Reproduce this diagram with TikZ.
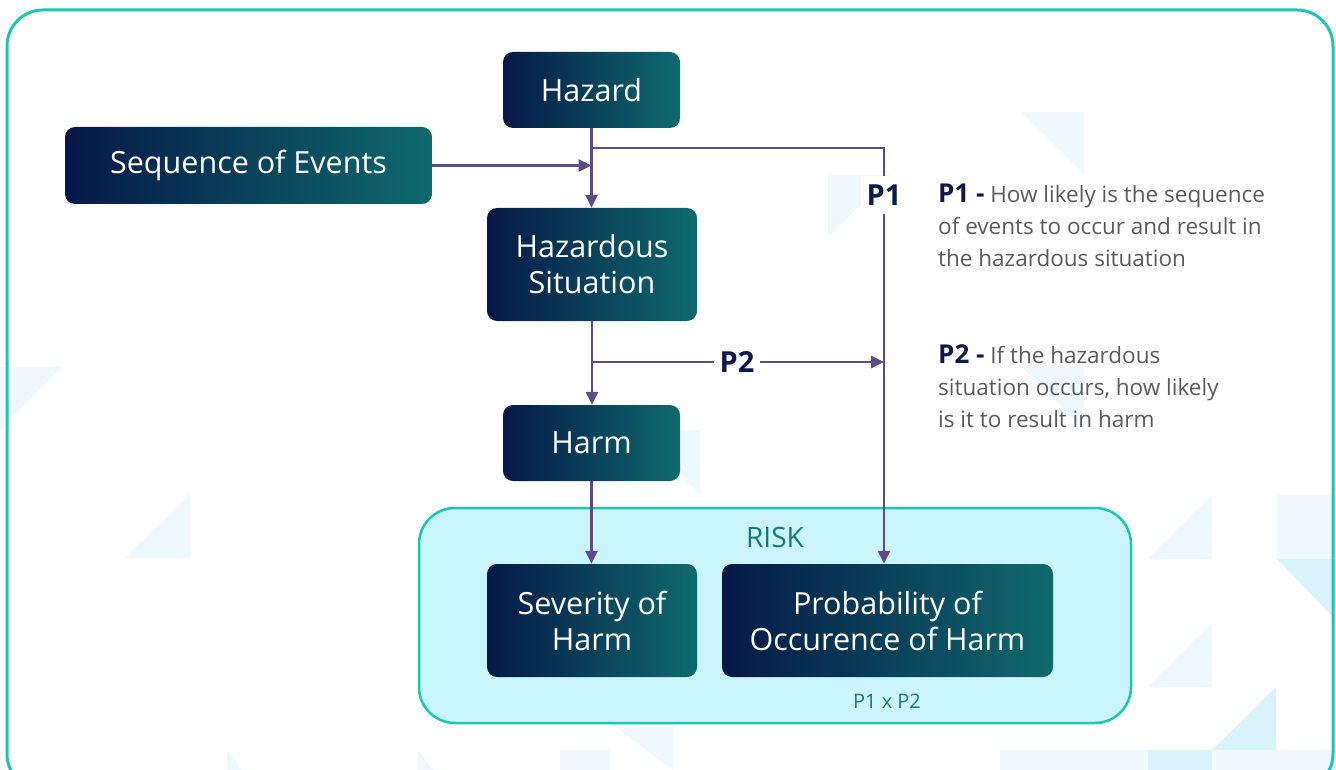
\documentclass[tikz,border=0pt]{standalone}
\usepackage{fontspec}
\setmainfont{Open Sans}
\usepackage{tikz}
\usetikzlibrary{arrows.meta}

\definecolor{boxnavy}{HTML}{061848}
\definecolor{boxteal}{HTML}{0F6A6C}
\definecolor{flowpurple}{HTML}{5C4B87}
\definecolor{frameteal}{HTML}{1CC6B4}
\definecolor{riskfill}{HTML}{CBF5FD}
\definecolor{risktext}{HTML}{177A75}
\definecolor{notegray}{HTML}{5A5A5A}
\definecolor{noteblue}{HTML}{0B1A4B}
\definecolor{bglight}{HTML}{EFF8FE}
\definecolor{bgmid}{HTML}{D8F3FB}

\newcommand{\drawbgtri}[4]{   % colour, three corners
	\fill[#1] (#2) -- (#3) -- (#4) -- cycle;
}

\tikzset{
	gradbox/.style={rounded corners=10pt, left color=boxnavy, right color=boxteal,
		shading angle=90, text=white, align=center, inner sep=0pt,
		font=\fontsize{30.5}{36}\selectfont},
	riskbox/.style={rounded corners=36pt, fill=riskfill, draw=frameteal, line width=2.5pt},
	flow/.style={draw=flowpurple, line width=2.5pt, -{Triangle[length=13pt,width=12pt]}},
	onlabel/.style={fill=white, text=noteblue, inner xsep=6pt, inner ysep=9pt,
		font=\fontsize{29}{32}\selectfont\bfseries},
	note/.style={anchor=north west, align=left, text=notegray, inner sep=0pt,
		font=\fontsize{22.5}{32}\selectfont},
}

\begin{document}
\begin{tikzpicture}[x=1pt, y=-1pt]
\useasboundingbox (0,0) rectangle (1336,770);
\clip (0,0) rectangle (1336,770);

% faint background pattern
\drawbgtri{bglight}{1022,112}{1084,112}{1084,175};
\drawbgtri{bglight}{1022,367}{1084,367}{1084,430};
\drawbgtri{bglight}{0,367}{62,367}{0,430};
\drawbgtri{bglight}{190,494}{190,558}{125,558};
\drawbgtri{bglight}{828,175}{890,175}{828,237};
\drawbgtri{bglight}{640,430}{700,430}{700,495};
\drawbgtri{bglight}{1212,495}{1212,559}{1148,559};
\fill[bglight] (1277,495) rectangle (1336,559);
\drawbgtri{bgmid}{1277,559}{1336,559}{1336,620};
\drawbgtri{bglight}{1212,623}{1212,687}{1148,687};
\drawbgtri{bgmid}{1276,687}{1276,750}{1212,750};
\fill[bglight] (1000,750) rectangle (1336,770);
\fill[bgmid] (1148,750) rectangle (1212,770);
\drawbgtri{bglight}{227,750}{242,770}{227,770};
\drawbgtri{bglight}{418,750}{433,770}{418,770};
\drawbgtri{bglight}{610,723}{673,723}{673,770};
\fill[bglight] (560,750) rectangle (610,770);

% outer frame
\draw[frameteal, line width=3pt, rounded corners=36pt] (7,10) rectangle (1333,790);

% risk group
\node[riskbox, minimum width=712pt, minimum height=215pt] (risk) at (775,615.5) {};
\node[text=risktext, font=\fontsize{28}{32}\selectfont] (risktitle) at (775,537) {RISK};
\node[text=risktext, font=\fontsize{20}{24}\selectfont] (riskformula) at (887,701) {P1 x P2};

% boxes
\node[gradbox, minimum width=177pt, minimum height=76pt] (hazard) at (591.5,90) {Hazard};
\node[gradbox, minimum width=367pt, minimum height=77pt] (seq) at (248.5,165.5) {Sequence of Events};
\node[gradbox, minimum width=210pt, minimum height=113pt] (hazsit) at (592,264.5) {Hazardous\\Situation};
\node[gradbox, minimum width=177pt, minimum height=76pt] (harm) at (591.5,443) {Harm};
\node[gradbox, minimum width=210pt, minimum height=113pt] (sev) at (592,620.5) {Severity of\\Harm};
\node[gradbox, minimum width=331pt, minimum height=113pt] (prob) at (887.5,620.5) {Probability of\\Occurence of Harm};

% connectors
\coordinate (p1split) at (591.5,148);
\coordinate (p1turn) at (884,148);
\coordinate (seqjoin) at (591.5,165.5);
\coordinate (p2split) at (591.5,362);
\coordinate (p2join) at (884,362);

\draw[flow] (hazard.south) -- (hazard.south |- hazsit.north);
\draw[flow] (seq.east) -- (seqjoin);
\draw[flow] (p1split) -- (p1turn) -- (p1turn |- prob.north);
\draw[flow] (hazsit.south) -- (hazsit.south |- harm.north);
\draw[flow] (p2split) -- (p2join);
\draw[flow] (harm.south) -- (harm.south |- sev.north);

\node[onlabel] (p1tag) at (884,195) {P1};
\node[onlabel] (p2tag) at (737,362) {P2};

% notes
\node[note] (p1note) at (938,184) {{\color{noteblue}\fontsize{26}{32}\selectfont\bfseries P1 -} How likely is the sequence\\of events to occur and result in\\the hazardous situation};
\node[note] (p2note) at (938,344) {{\color{noteblue}\fontsize{26}{32}\selectfont\bfseries P2 -} If the hazardous\\situation occurs, how likely\\is it to result in harm};

\end{tikzpicture}
\end{document}
